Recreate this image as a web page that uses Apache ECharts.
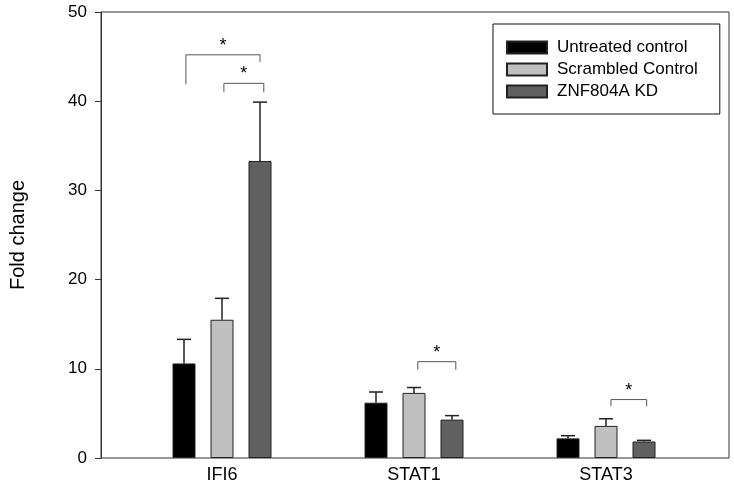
<!DOCTYPE html>
<html>
<head>
<meta charset="utf-8">
<script src="https://cdn.jsdelivr.net/npm/echarts@6/dist/echarts.min.js"></script>
<style>
html,body{margin:0;padding:0;background:#fff;}
#chart{width:734px;height:486px;}
</style>
</head>
<body>
<div id="chart"></div>
<script>
var categories = ['IFI6', 'STAT1', 'STAT3'];
var seriesNames = ['Untreated control', 'Scrambled Control', 'ZNF804A KD'];
var untreated = [10.6, 6.2, 2.2];
var scrambled = [15.5, 7.3, 3.6];
var kd = [33.3, 4.3, 1.85];
var untreatedErr = [2.7, 1.2, 0.3];
var scrambledErr = [2.4, 0.6, 0.8];
var kdErr = [6.6, 0.45, 0.13];
var yTicks = [0, 10, 20, 30, 40, 50];
// brackets: [category, leftBar, rightBar, topY, leftEndY, rightEndY]
var brackets = [
  [0, 0.05, 2.0, 45.2, 41.9, 44.4],
  [0, 1.05, 2.1, 42.0, 41.0, 41.0],
  [1, 1.1, 2.1, 10.8, 9.9, 9.9],
  [2, 1.13, 2.07, 6.55, 5.8, 5.8]
];

var BAR_W = 23, BAR_STEP = 38;
var FONT = 'Liberation Sans, Arial, sans-serif';
var colors = ['#000000', '#c0c0c0', '#606060'];
var values = [untreated, scrambled, kd];
var errs = [untreatedErr, scrambledErr, kdErr];

var errData = [];
for (var s = 0; s < 3; s++) {
  for (var c = 0; c < categories.length; c++) {
    errData.push([c, s, values[s][c], values[s][c] + errs[s][c]]);
  }
}

var chart = echarts.init(document.getElementById('chart'));
var series = [];
for (var i = 0; i < 3; i++) {
  series.push({
    name: seriesNames[i], type: 'bar', xAxisIndex: 0, yAxisIndex: 0,
    data: values[i], barWidth: BAR_W, barGap: ((BAR_STEP - BAR_W) / BAR_W * 100) + '%',
    itemStyle: { color: colors[i], borderColor: '#222', borderWidth: 1 },
    silent: true, animation: false
  });
}
series.push({
  type: 'custom', xAxisIndex: 0, yAxisIndex: 0, data: errData, animation: false, silent: true, z: 5,
  renderItem: function (params, api) {
    var c = api.value(0), s = api.value(1);
    var base = api.coord([c, api.value(2)]);
    var top = api.coord([c, api.value(3)]);
    var x = base[0] + (s - 1) * BAR_STEP;
    var st = { stroke: '#222', lineWidth: 1.5 };
    return { type: 'group', children: [
      { type: 'line', shape: { x1: x, y1: base[1], x2: x, y2: top[1] }, style: st },
      { type: 'line', shape: { x1: x - 7, y1: top[1], x2: x + 7, y2: top[1] }, style: st }
    ]};
  }
});
series.push({
  type: 'custom', xAxisIndex: 0, yAxisIndex: 0, data: brackets, animation: false, silent: true, z: 5,
  renderItem: function (params, api) {
    var c = api.value(0);
    var ctr = api.coord([c, 0])[0];
    var xl = ctr + (api.value(1) - 1) * BAR_STEP;
    var xr = ctr + (api.value(2) - 1) * BAR_STEP;
    var yt = api.coord([c, api.value(3)])[1];
    var yl = api.coord([c, api.value(4)])[1];
    var yr = api.coord([c, api.value(5)])[1];
    return { type: 'group', children: [
      { type: 'polyline', shape: { points: [[xl, yl], [xl, yt], [xr, yt], [xr, yr]] }, style: { stroke: '#555', lineWidth: 1, fill: null } },
      { type: 'text', style: { text: '*', x: (xl + xr) / 2, y: yt - 9, fill: '#000', font: '18px ' + FONT, textAlign: 'center', textVerticalAlign: 'middle' } }
    ]};
  }
});

chart.setOption({
  animation: false,
  textStyle: { fontFamily: FONT },
  legend: {
    orient: 'vertical', left: 493, top: 24,
    padding: [15, 22, 14, 13],
    itemWidth: 40, itemHeight: 12, itemGap: 5,
    icon: 'rect',
    borderColor: '#111', borderWidth: 1,
    data: seriesNames,
    textStyle: { fontSize: 17, color: '#000', fontFamily: FONT, padding: [0, 0, 0, 5] },
    selectedMode: false
  },
  grid: [
    { left: 126, width: 576, top: 12, bottom: 28 },
    { left: 98, right: 5, top: 12, bottom: 28, show: true, borderColor: '#333', borderWidth: 1, z: 0 }
  ],
  xAxis: [
    { type: 'category', gridIndex: 0, data: categories,
      axisLine: { show: false }, axisTick: { show: false },
      axisLabel: { fontSize: 18, color: '#000', margin: 8, fontFamily: FONT } },
    { type: 'value', gridIndex: 1, min: 0, max: 1, show: false }
  ],
  yAxis: [
    { type: 'value', gridIndex: 0, min: 0, max: 50, show: false },
    { type: 'value', gridIndex: 1, min: 0, max: 50, interval: 10,
      name: 'Fold change', nameLocation: 'middle', nameGap: 73,
      nameTextStyle: { fontSize: 20, color: '#000', fontFamily: FONT },
      axisLine: { show: true, lineStyle: { color: '#333', width: 1 } },
      axisTick: { show: true, inside: false, length: 6, lineStyle: { color: '#333' } },
      axisLabel: { fontSize: 17, color: '#000', margin: 14, fontFamily: FONT,
        formatter: function (v) { return yTicks.indexOf(v) >= 0 ? String(v) : ''; } },
      splitLine: { show: false } }
  ],
  series: series
});
</script>
</body>
</html>
